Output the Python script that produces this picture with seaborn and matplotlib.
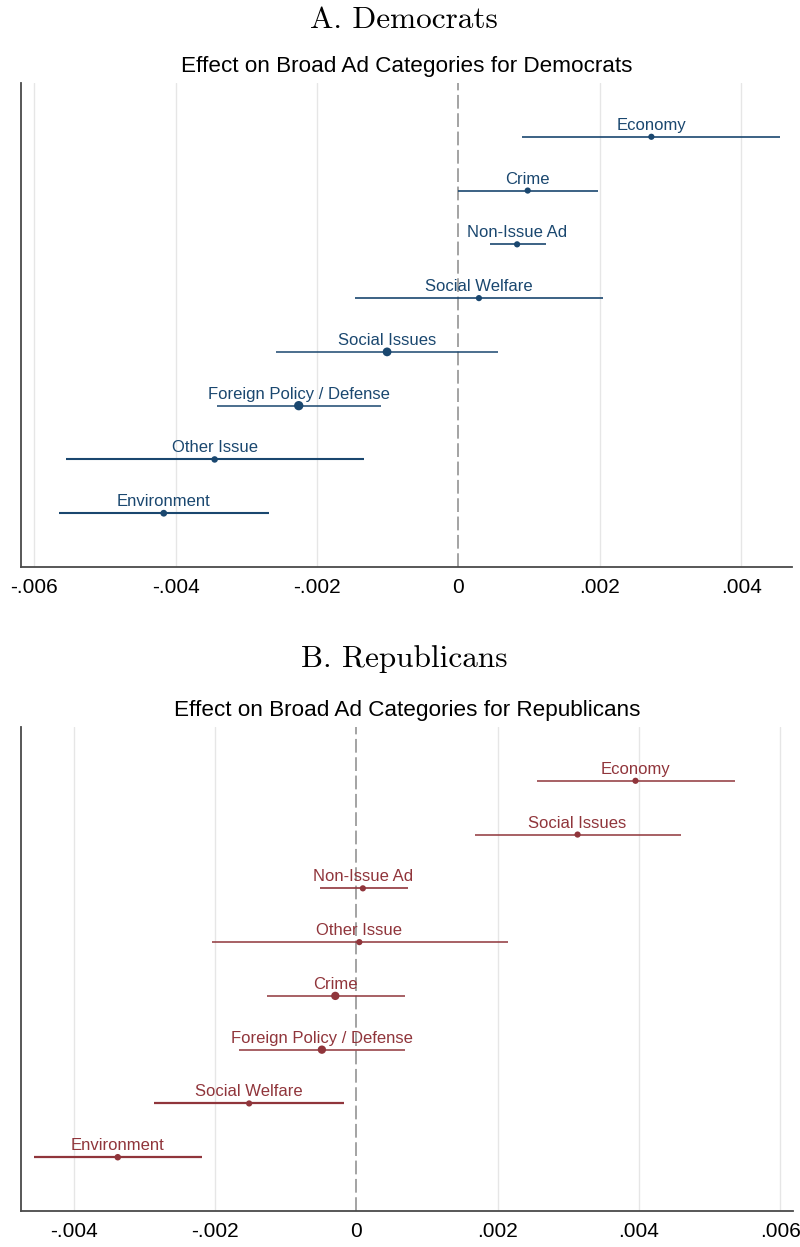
import numpy as np
import pandas as pd
import matplotlib
matplotlib.use("Agg")
import matplotlib.pyplot as plt
import seaborn as sns

# ---- Panel A: Democrats -------------------------------------------------
dem_categories = ["Economy", "Crime", "Non-Issue Ad", "Social Welfare",
                  "Social Issues", "Foreign Policy / Defense", "Other Issue",
                  "Environment"]
dem_estimate = [0.00273, 0.00098, 0.00083, 0.00029,
                -0.00101, -0.00226, -0.00345, -0.00417]
dem_ci_low = [0.00090, -0.00001, 0.00044, -0.00147,
              -0.00258, -0.00341, -0.00556, -0.00565]
dem_ci_high = [0.00455, 0.00198, 0.00124, 0.00205,
               0.00056, -0.00110, -0.00134, -0.00268]

# ---- Panel B: Republicans -----------------------------------------------
rep_categories = ["Economy", "Social Issues", "Non-Issue Ad", "Other Issue",
                  "Crime", "Foreign Policy / Defense", "Social Welfare",
                  "Environment"]
rep_estimate = [0.00395, 0.00313, 0.00009, 0.00004,
                -0.00030, -0.00049, -0.00152, -0.00338]
rep_ci_low = [0.00255, 0.00168, -0.00052, -0.00204,
              -0.00127, -0.00166, -0.00287, -0.00456]
rep_ci_high = [0.00536, 0.00459, 0.00073, 0.00214,
               0.00068, 0.00069, -0.00017, -0.00219]

x_ticks_a = [-0.006, -0.004, -0.002, 0.0, 0.002, 0.004]
x_ticks_b = [-0.004, -0.002, 0.0, 0.002, 0.004, 0.006]

# per-row styling (marker area in pt^2, CI line width)
dem_dot = [20, 20, 20, 20, 40, 45, 22, 24]
dem_lw = [1.2, 1.2, 1.2, 1.2, 1.1, 1.1, 1.5, 1.5]
rep_dot = [20, 20, 20, 20, 36, 36, 20, 22]
rep_lw = [1.1, 1.1, 1.2, 1.1, 1.1, 1.1, 1.6, 1.6]

BLUE = "#1a476f"
RED = "#90353b"


def fmt_tick(v):
    if abs(v) < 1e-12:
        return "0"
    return f"{v:.3f}".replace("0.", ".")


def draw_panel(ax, cats, est, lo, hi, color, ticks, xlim, dots, lws):
    n = len(cats)
    df = pd.DataFrame({"category": cats, "estimate": est,
                       "lo": lo, "hi": hi,
                       "ypos": np.arange(n)[::-1] + 1,
                       "dot": dots, "lw": lws})
    # vertical grid at tick positions
    for t in ticks:
        if abs(t) > 1e-12:
            ax.axvline(t, color="#e6e6e6", lw=1.0, zorder=0)
    ax.axvline(0, color="#8a8a8a", lw=1.1, ls=(0, (9, 3)), zorder=1)
    # confidence intervals
    for _, r in df.iterrows():
        ax.hlines(r["ypos"], r["lo"], r["hi"], color=color, lw=r["lw"], zorder=2)
    # point estimates
    sns.scatterplot(data=df, x="estimate", y="ypos", size="dot",
                    sizes=(min(dots), max(dots)),
                    color=color, edgecolor=color, linewidth=0, legend=False,
                    ax=ax, zorder=3)
    for _, r in df.iterrows():
        ax.annotate(r["category"], (r["estimate"], r["ypos"]),
                    xytext=(0, 5), textcoords="offset points",
                    ha="center", va="baseline", color=color,
                    fontsize=12, family="Liberation Sans")
    ax.set_xlim(*xlim)
    ax.set_ylim(0, n + 1)
    ax.set_xticks(ticks)
    ax.set_xticklabels([fmt_tick(t) for t in ticks], family="Liberation Sans",
                       fontsize=15, color="black")
    ax.set_yticks([])
    ax.set_xlabel("")
    ax.set_ylabel("")
    for side in ["top", "right"]:
        ax.spines[side].set_visible(False)
    for side in ["left", "bottom"]:
        ax.spines[side].set_color("#4a4a4a")
        ax.spines[side].set_linewidth(1.3)
    ax.tick_params(axis="x", direction="out", length=5, width=1.1,
                   color="#4a4a4a", pad=3)


sns.set_theme(style="white")
fig = plt.figure(figsize=(8.0, 12.47), dpi=100)

W, H = 800, 1247
ax_a = fig.add_axes([21 / W, 1 - 567 / H, (792 - 21) / W, (567 - 83) / H])
ax_b = fig.add_axes([21 / W, 1 - 1211 / H, (793 - 21) / W, (1211 - 727) / H])

draw_panel(ax_a, dem_categories, dem_estimate, dem_ci_low, dem_ci_high, BLUE,
           x_ticks_a, (-0.00619, 0.00472), dem_dot, dem_lw)
draw_panel(ax_b, rep_categories, rep_estimate, rep_ci_low, rep_ci_high, RED,
           x_ticks_b, (-0.00475, 0.00618), rep_dot, rep_lw)

fig.text(403.5 / W, 1 - 28 / H, "A. Democrats", ha="center", va="baseline",
         family="cmr10", fontsize=22.5, color="black")
fig.text(407 / W, 1 - 72 / H, "Effect on Broad Ad Categories for Democrats",
         ha="center", va="baseline", family="Liberation Sans", fontsize=16.2,
         color="black")
fig.text(404.5 / W, 1 - 667 / H, "B. Republicans", ha="center", va="baseline",
         family="cmr10", fontsize=22.5, color="black")
fig.text(407 / W, 1 - 716 / H, "Effect on Broad Ad Categories for Republicans",
         ha="center", va="baseline", family="Liberation Sans", fontsize=16.2,
         color="black")

fig.savefig("out.png", dpi=100, facecolor="white")
